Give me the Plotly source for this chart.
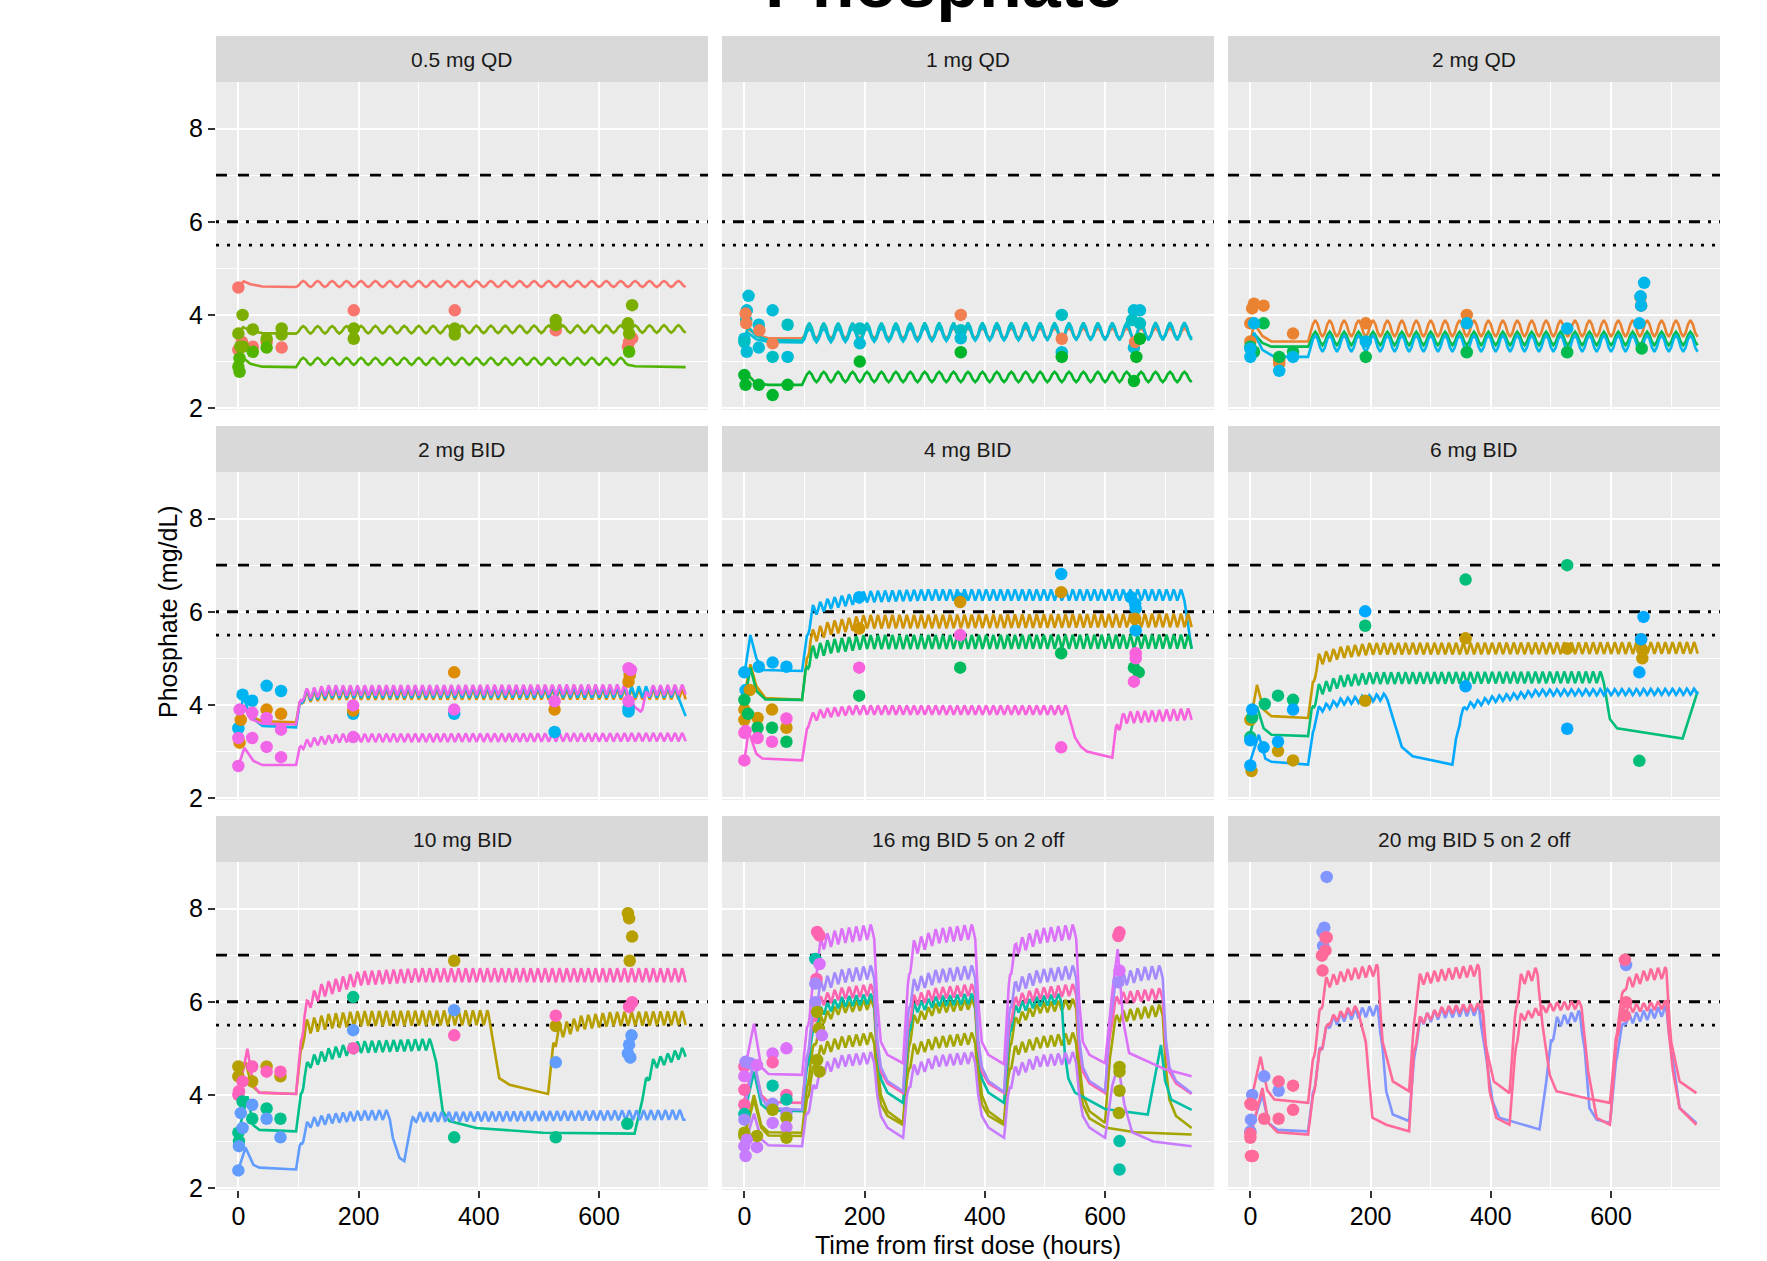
import numpy as np
import plotly.graph_objects as go

# ---------------- data ----------------
PANEL_TITLES = ["0.5 mg QD", "1 mg QD", "2 mg QD",
                "2 mg BID", "4 mg BID", "6 mg BID",
                "10 mg BID", "16 mg BID 5 on 2 off", "20 mg BID 5 on 2 off"]
X_TICKS = [0, 200, 400, 600]
Y_TICKS = [2, 4, 6, 8]
REF_LEVELS = [7.0, 6.0, 5.5]
TITLE = "Phosphate"
X_TITLE = "Time from first dose (hours)"
Y_TITLE = "Phosphate (mg/dL)"

# simulated individual lines: (colour index, envelope knots (t, trough value), dosing windows (start, end, period, swing))
COLORS_1 = ["#F8766D", "#7CAE00", "#53B400"]
SIM_1 = [
    (0, [(0, 4.60), (9, 4.72), (20, 4.66), (40, 4.61), (96, 4.60), (744, 4.60)], [(96, 744, 24, 0.13)]),
    (1, [(0, 3.62), (8, 3.74), (20, 3.66), (40, 3.61), (96, 3.60), (744, 3.62)], [(96, 744, 24, 0.16)]),
    (2, [(0, 2.95), (8, 3.08), (20, 2.95), (40, 2.89), (96, 2.88), (100, 2.93), (648, 2.93), (660, 2.90), (744, 2.88)], [(96, 648, 24, 0.15)]),
]
OBS_1 = [(0, 4.59, 0), (6, 3.42, 0), (0, 3.25, 0), (24, 3.32, 0), (47, 3.42, 0), (72, 3.30, 0), (192, 4.10, 0),
         (360, 4.10, 0), (528, 3.67, 0), (648, 3.32, 0), (655, 3.50, 0), (650, 3.42, 0),
         (0, 3.60, 1), (7, 4.00, 1), (3, 3.32, 1), (8, 3.32, 1), (24, 3.69, 1), (47, 3.49, 1), (72, 3.71, 1),
         (72, 3.58, 1), (192, 3.71, 1), (192, 3.49, 1), (360, 3.71, 1), (360, 3.58, 1), (528, 3.89, 1),
         (528, 3.78, 1), (648, 3.82, 1), (650, 3.60, 1), (655, 4.21, 1),
         (2, 3.07, 2), (0, 2.89, 2), (2, 2.78, 2), (24, 3.21, 2), (47, 3.30, 2), (650, 3.21, 2)]

COLORS_2 = ["#F07F52", "#00B52A", "#00BFC4", "#00BCD6"]
SIM_2 = [
    (0, [(0, 3.50), (6, 3.70), (20, 3.58), (40, 3.50), (96, 3.50), (744, 3.50)], [(96, 744, 24, 0.22)]),
    (1, [(0, 2.70), (5, 2.72), (20, 2.53), (40, 2.50), (96, 2.50), (100, 2.56), (744, 2.56)], [(96, 744, 24, 0.22)]),
    (2, [(0, 3.45), (6, 3.75), (20, 3.55), (40, 3.46), (96, 3.45), (744, 3.46)], [(96, 744, 24, 0.38)]),
    (3, [(0, 3.40), (6, 3.62), (20, 3.48), (40, 3.42), (96, 3.41), (744, 3.50)], [(96, 744, 24, 0.30)]),
]
OBS_2 = [(7, 4.41, 3), (4, 4.10, 3), (3, 3.89, 2), (24, 3.79, 3), (47, 4.10, 3), (72, 3.79, 2), (0, 3.49, 3),
         (0, 3.42, 2), (4, 3.21, 3), (24, 3.30, 3), (47, 3.10, 2), (72, 3.10, 3), (192, 3.71, 2), (192, 3.39, 3),
         (360, 3.67, 2), (360, 3.50, 3), (528, 4.00, 2), (528, 3.20, 3), (648, 4.10, 3), (658, 4.10, 3),
         (645, 3.89, 2), (658, 3.82, 2), (648, 3.30, 3),
         (2, 4.03, 0), (3, 3.82, 0), (25, 3.67, 0), (47, 3.39, 0), (360, 4.00, 0), (528, 3.49, 0), (650, 3.42, 0),
         (0, 2.71, 1), (2, 2.50, 1), (24, 2.50, 1), (47, 2.28, 1), (72, 2.50, 1), (192, 3.00, 1), (360, 3.20, 1),
         (528, 3.10, 1), (648, 2.58, 1), (652, 3.10, 1), (658, 3.49, 1)]

COLORS_3 = ["#EA8331", "#00BB4E", "#00B6EB"]
SIM_3 = [
    (0, [(0, 3.40), (6, 3.82), (20, 3.55), (35, 3.43), (96, 3.43), (100, 3.53), (744, 3.53)], [(96, 744, 24, 0.36)]),
    (1, [(0, 3.30), (6, 3.60), (20, 3.40), (35, 3.32), (96, 3.32), (100, 3.35), (744, 3.35)], [(96, 744, 24, 0.29)]),
    (2, [(0, 3.10), (6, 3.62), (20, 3.25), (40, 3.10), (96, 3.10), (100, 3.21), (744, 3.21)], [(96, 744, 24, 0.36)]),
]
OBS_3 = [(0, 3.43, 0), (0, 3.82, 0), (3, 4.14, 0), (6, 4.24, 0), (22, 4.20, 0), (71, 3.60, 0), (48, 3.03, 0),
         (48, 2.96, 0), (192, 3.82, 0), (360, 4.00, 0), (649, 4.38, 0), (650, 4.20, 0),
         (0, 3.32, 1), (22, 3.82, 1), (6, 3.21, 1), (48, 3.10, 1), (71, 3.21, 1), (192, 3.10, 1), (360, 3.20, 1),
         (527, 3.20, 1), (651, 3.28, 1),
         (0, 3.10, 2), (6, 3.82, 2), (48, 2.80, 2), (71, 3.10, 2), (192, 3.43, 2), (360, 3.82, 2), (527, 3.71, 2),
         (655, 4.69, 2), (649, 4.40, 2), (650, 4.20, 2), (647, 3.82, 2), (0, 3.28, 2)]

COLORS_4 = ["#DE8C00", "#00B4EF", "#F166E8"]
SIM_4 = [
    (0, [(0, 3.30), (9, 3.95), (20, 3.75), (40, 3.65), (96, 3.63), (108, 4.05), (150, 4.11), (744, 4.12)], [(96, 744, 12, 0.22)]),
    (1, [(0, 3.45), (8, 4.20), (20, 3.75), (40, 3.55), (96, 3.52), (108, 4.08), (150, 4.15), (732, 4.16), (744, 3.76)], [(96, 732, 12, 0.24)]),
    (2, [(0, 3.50), (9, 4.00), (20, 3.70), (40, 3.60), (96, 3.58), (108, 4.12), (150, 4.20), (648, 4.22), (660, 3.95),
         (669, 3.86), (672, 3.90), (684, 4.20), (744, 4.22)], [(96, 648, 12, 0.22), (672, 744, 12, 0.22)]),
    (2, [(0, 2.69), (10, 3.08), (25, 2.80), (40, 2.71), (96, 2.71), (106, 3.05), (130, 3.13), (170, 3.20), (744, 3.22)], [(96, 744, 12, 0.18)]),
]
OBS_4 = [(0, 3.50, 1), (7, 4.22, 1), (23, 4.09, 1), (47, 4.41, 1), (71, 4.30, 1), (191, 3.81, 1), (359, 3.81, 1),
         (526, 3.42, 1), (649, 3.93, 1), (649, 3.86, 1), (651, 4.71, 1),
         (2, 3.19, 0), (4, 3.68, 0), (47, 3.90, 0), (71, 3.81, 0), (191, 3.88, 0), (359, 4.70, 0), (526, 3.90, 0),
         (649, 4.50, 0), (651, 4.64, 0),
         (0, 2.69, 2), (0, 3.29, 2), (2, 3.90, 2), (23, 3.29, 2), (23, 3.83, 2), (47, 3.10, 2), (47, 3.72, 2),
         (71, 2.88, 2), (71, 3.47, 2), (191, 3.99, 2), (191, 3.31, 2), (359, 3.90, 2), (526, 4.08, 2),
         (649, 4.08, 2), (649, 4.79, 2), (653, 4.75, 2)]

COLORS_5 = ["#00B0F6", "#D09400", "#00BA5E", "#F962DD"]
SIM_5 = [
    (0, [(0, 4.65), (10, 5.50), (20, 5.00), (32, 4.75), (96, 4.73), (108, 5.60), (113, 5.90), (140, 6.05), (200, 6.20),
         (300, 6.24), (732, 6.24), (744, 5.20)], [(96, 732, 12, 0.24)]),
    (1, [(0, 4.20), (10, 4.87), (20, 4.40), (35, 4.15), (96, 4.11), (110, 5.30), (140, 5.50), (200, 5.64), (744, 5.67)], [(96, 744, 12, 0.29)]),
    (2, [(0, 4.05), (10, 4.80), (20, 4.30), (35, 4.12), (96, 4.11), (110, 4.95), (140, 5.10), (200, 5.20), (744, 5.21)], [(96, 744, 12, 0.30)]),
    (3, [(0, 2.80), (7, 3.44), (20, 2.95), (30, 2.85), (96, 2.81), (108, 3.60), (130, 3.72), (180, 3.79), (540, 3.79),
         (550, 3.30), (560, 3.10), (570, 3.00), (612, 2.87), (620, 3.40), (632, 3.60), (744, 3.68)],
     [(96, 540, 12, 0.20), (612, 744, 12, 0.25)]),
]
OBS_5 = [(0, 4.70, 0), (2, 4.32, 0), (24, 4.82, 0), (47, 4.91, 0), (70, 4.82, 0), (191, 6.31, 0), (359, 6.28, 0),
         (527, 6.81, 0), (650, 6.17, 0), (651, 6.07, 0), (651, 5.60, 0), (643, 6.31, 0),
         (0, 3.90, 1), (0, 3.68, 1), (9, 4.32, 1), (22, 3.72, 1), (46, 3.90, 1), (70, 3.51, 1), (191, 5.64, 1),
         (359, 6.21, 1), (527, 6.42, 1), (650, 5.85, 1),
         (0, 4.11, 2), (6, 3.81, 2), (22, 3.51, 2), (46, 3.51, 2), (70, 3.21, 2), (191, 4.20, 2), (359, 4.80, 2),
         (527, 5.11, 2), (648, 4.80, 2), (656, 4.70, 2),
         (0, 2.81, 3), (2, 3.44, 3), (0, 3.40, 3), (22, 3.29, 3), (46, 3.21, 3), (70, 3.71, 3), (191, 4.80, 3),
         (359, 5.50, 3), (527, 3.09, 3), (648, 4.50, 3), (651, 5.11, 3), (651, 5.00, 3)]

COLORS_6 = ["#C49A00", "#00BD78", "#00A9FF"]
SIM_6 = [
    (0, [(0, 3.65), (11, 4.43), (22, 3.90), (35, 3.76), (96, 3.72), (108, 4.60), (114, 4.85), (150, 5.00), (200, 5.08),
         (744, 5.10)], [(96, 744, 12, 0.25)]),
    (1, [(0, 3.40), (11, 3.97), (22, 3.50), (35, 3.36), (96, 3.33), (108, 4.00), (114, 4.20), (150, 4.38), (200, 4.45),
         (588, 4.47), (598, 3.70), (610, 3.50), (719, 3.28), (744, 4.29)], [(96, 588, 12, 0.25)]),
    (2, [(0, 2.80), (14, 3.36), (25, 2.85), (35, 2.78), (96, 2.72), (108, 3.60), (114, 3.83), (150, 4.00), (228, 4.11),
         (240, 3.60), (252, 3.10), (270, 2.90), (336, 2.72), (350, 3.70), (358, 3.90), (400, 4.05), (480, 4.20),
         (744, 4.22)], [(96, 228, 12, 0.14), (336, 744, 12, 0.13)]),
]
OBS_6 = [(0, 3.68, 0), (2, 2.58, 0), (46, 3.01, 0), (71, 2.81, 0), (191, 4.09, 0), (358, 5.43, 0), (527, 5.21, 0),
         (652, 5.00, 0), (652, 5.18, 0), (650, 5.41, 0),
         (3, 3.73, 1), (24, 4.02, 1), (46, 4.20, 1), (71, 4.11, 1), (0, 3.31, 1), (191, 5.70, 1), (358, 6.69, 1),
         (527, 7.00, 1), (647, 2.80, 1),
         (0, 2.70, 2), (0, 3.24, 2), (3, 3.90, 2), (22, 3.09, 2), (46, 3.21, 2), (71, 3.90, 2), (191, 6.01, 2),
         (358, 4.40, 2), (527, 3.49, 2), (647, 4.70, 2), (650, 5.41, 2), (654, 5.89, 2)]

COLORS_7 = ["#B79F00", "#FF62BC", "#00BF8A", "#619CFF"]
SIM_7 = [
    (0, [(0, 4.50), (12, 4.70), (22, 4.20), (35, 4.05), (96, 4.02), (108, 5.10), (114, 5.30), (150, 5.42), (200, 5.48),
         (420, 5.50), (424, 5.14), (434, 4.36), (451, 4.22), (515, 4.02), (524, 4.90), (532, 5.20), (570, 5.40),
         (620, 5.48), (744, 5.50)], [(96, 420, 12, 0.32), (516, 744, 12, 0.30)]),
    (1, [(0, 4.00), (15, 4.99), (25, 4.20), (35, 4.05), (96, 4.02), (110, 5.60), (118, 5.85), (140, 6.10), (200, 6.35),
         (300, 6.42), (744, 6.42)], [(96, 744, 12, 0.30)]),
    (2, [(0, 3.19), (15, 3.97), (25, 3.35), (35, 3.25), (96, 3.22), (110, 4.30), (118, 4.57), (150, 4.75), (200, 4.90),
         (324, 4.96), (329, 4.71), (340, 3.65), (351, 3.44), (396, 3.29), (507, 3.19), (659, 3.17), (673, 3.95),
         (690, 4.55), (744, 4.82)], [(96, 324, 12, 0.25), (672, 744, 12, 0.22)]),
    (3, [(0, 2.40), (12, 2.87), (25, 2.50), (35, 2.44), (96, 2.40), (110, 3.10), (118, 3.29), (150, 3.38), (200, 3.45),
         (252, 3.47), (257, 3.08), (268, 2.65), (276, 2.58), (284, 3.20), (296, 3.42), (744, 3.47)],
     [(96, 252, 12, 0.21), (284, 744, 12, 0.21)]),
]
OBS_7 = [(0, 4.61, 0), (0, 4.40, 0), (23, 4.29, 0), (47, 4.61, 0), (70, 4.40, 0), (359, 6.88, 0), (528, 5.48, 0),
         (648, 7.90, 0), (650, 7.79, 0), (655, 7.40, 0), (651, 6.88, 0),
         (0, 4.00, 1), (1, 4.08, 1), (7, 4.29, 1), (23, 4.61, 1), (47, 4.50, 1), (70, 4.50, 1), (191, 5.00, 1),
         (359, 5.28, 1), (528, 5.70, 1), (650, 5.89, 1), (655, 5.99, 1),
         (0, 3.19, 2), (1, 3.01, 2), (7, 3.86, 2), (23, 3.49, 2), (47, 3.71, 2), (70, 3.49, 2), (191, 6.10, 2),
         (359, 3.09, 2), (528, 3.09, 2), (647, 3.38, 2),
         (0, 2.38, 3), (1, 2.90, 3), (7, 3.29, 3), (4, 3.61, 3), (23, 3.79, 3), (47, 3.49, 3), (70, 3.09, 3),
         (191, 5.39, 3), (359, 5.82, 3), (528, 4.70, 3), (654, 5.28, 3), (650, 5.08, 3), (648, 4.89, 3), (652, 4.80, 3)]

COLORS_8 = ["#A3A500", "#00BFA6", "#A58AFF", "#DC71FA", "#C77CFF", "#FF64B0"]
SIM_8 = [
    (0, [(0, 3.10), (16, 3.90), (28, 3.30), (40, 3.13), (96, 3.12), (110, 4.20), (127, 4.85), (160, 5.00), (216, 5.10),
         (221, 4.30), (227, 3.80), (238, 3.55), (264, 3.36), (274, 4.50), (282, 4.85), (320, 5.00), (384, 5.10),
         (389, 4.30), (395, 3.80), (406, 3.55), (432, 3.36), (442, 4.50), (452, 4.85), (490, 5.00), (552, 5.10),
         (557, 4.30), (563, 3.80), (574, 3.50), (600, 3.30), (650, 3.20), (744, 3.15)],
     [(96, 216, 12, 0.25), (264, 384, 12, 0.25), (432, 552, 12, 0.25)]),
    (0, [(0, 3.15), (16, 4.00), (28, 3.35), (40, 3.20), (96, 3.19), (110, 4.60), (127, 5.50), (160, 5.75), (216, 5.85),
         (221, 4.70), (227, 4.00), (238, 3.65), (264, 3.40), (274, 5.00), (282, 5.50), (320, 5.75), (384, 5.85),
         (389, 4.70), (395, 4.00), (406, 3.65), (432, 3.40), (442, 5.00), (452, 5.50), (490, 5.75), (552, 5.85),
         (557, 4.70), (563, 4.00), (574, 3.65), (600, 3.40), (612, 5.20), (621, 5.55), (696, 5.70), (701, 4.60),
         (707, 3.90), (718, 3.55), (744, 3.29)],
     [(96, 216, 12, 0.22), (264, 384, 12, 0.22), (432, 552, 12, 0.22), (600, 696, 12, 0.25)]),
    (1, [(0, 3.60), (16, 4.50), (28, 3.80), (40, 3.67), (96, 3.65), (110, 5.00), (127, 5.70), (160, 5.88), (216, 5.96),
         (221, 4.90), (227, 4.35), (238, 4.05), (264, 3.83), (274, 5.30), (282, 5.75), (320, 5.90), (384, 5.96),
         (389, 4.90), (395, 4.35), (406, 4.05), (432, 3.83), (442, 5.30), (452, 5.75), (490, 5.90), (528, 5.96),
         (533, 4.90), (539, 4.35), (550, 4.05), (600, 3.70), (671, 3.58), (693, 5.07), (700, 4.30), (710, 3.90),
         (744, 3.68)],
     [(96, 216, 12, 0.22), (264, 384, 12, 0.22), (432, 528, 12, 0.22)]),
    (4, [(0, 2.90), (16, 3.60), (28, 3.05), (40, 2.92), (96, 2.90), (110, 3.80), (127, 4.40), (160, 4.60), (216, 4.68),
         (221, 4.00), (227, 3.55), (238, 3.30), (264, 3.08), (274, 4.10), (282, 4.40), (320, 4.60), (384, 4.68),
         (389, 4.00), (395, 3.55), (406, 3.30), (432, 3.08), (442, 4.10), (452, 4.40), (490, 4.60), (552, 4.68),
         (557, 4.00), (563, 3.55), (574, 3.30), (600, 3.08), (612, 4.20), (622, 4.64), (632, 3.80), (645, 3.20),
         (680, 3.00), (744, 2.90)],
     [(96, 216, 12, 0.25), (264, 384, 12, 0.25), (432, 552, 12, 0.25)]),
    (5, [(0, 3.90), (16, 4.71), (28, 4.00), (40, 3.85), (96, 3.83), (110, 5.20), (127, 5.90), (160, 6.05), (216, 6.14),
         (221, 5.00), (227, 4.50), (238, 4.25), (264, 4.04), (274, 5.50), (282, 5.90), (320, 6.05), (384, 6.14),
         (389, 5.00), (395, 4.50), (406, 4.25), (432, 4.04), (442, 5.50), (452, 5.90), (490, 6.05), (552, 6.14),
         (557, 5.00), (563, 4.50), (574, 4.25), (600, 4.04), (612, 5.60), (621, 5.95), (696, 6.05), (701, 5.00),
         (707, 4.50), (718, 4.25), (744, 4.02)],
     [(96, 216, 12, 0.25), (264, 384, 12, 0.25), (432, 552, 12, 0.25), (600, 696, 12, 0.25)]),
    (2, [(0, 3.70), (16, 4.75), (28, 3.95), (40, 3.72), (96, 3.68), (110, 5.30), (127, 6.20), (160, 6.40), (216, 6.50),
         (221, 5.20), (227, 4.60), (238, 4.30), (264, 4.08), (274, 5.80), (282, 6.20), (320, 6.40), (384, 6.50),
         (389, 5.20), (395, 4.60), (406, 4.30), (432, 4.06), (442, 5.80), (452, 6.20), (490, 6.40), (552, 6.50),
         (557, 5.20), (563, 4.60), (574, 4.30), (600, 4.08), (612, 5.90), (621, 6.30), (660, 6.45), (696, 6.50),
         (701, 5.20), (707, 4.60), (718, 4.30), (744, 4.04)],
     [(96, 216, 12, 0.29), (264, 384, 12, 0.29), (432, 552, 12, 0.29), (600, 696, 12, 0.29)]),
    (3, [(0, 4.50), (16, 5.53), (28, 4.60), (40, 4.45), (96, 4.43), (110, 5.80), (127, 7.10), (160, 7.25), (216, 7.35),
         (221, 6.00), (227, 5.14), (238, 4.86), (264, 4.68), (274, 6.50), (282, 7.00), (320, 7.25), (384, 7.35),
         (389, 6.00), (395, 5.14), (406, 4.86), (432, 4.66), (442, 6.50), (452, 7.00), (490, 7.25), (552, 7.35),
         (557, 6.00), (563, 5.14), (574, 4.86), (600, 4.68), (612, 6.20), (621, 7.13), (630, 5.60), (640, 4.90),
         (700, 4.55), (744, 4.40)],
     [(96, 216, 12, 0.32), (264, 384, 12, 0.32), (432, 552, 12, 0.32)]),
]
OBS_8 = [(0, 4.61, 5), (2, 4.71, 2), (10, 4.68, 2), (21, 4.64, 3), (0, 4.40, 3), (0, 4.11, 5), (0, 3.79, 5),
         (0, 3.59, 1), (0, 3.47, 2), (0, 3.19, 0), (0, 3.12, 0), (0, 2.90, 4), (2, 2.69, 4), (21, 2.88, 4),
         (21, 3.12, 0), (4, 3.04, 4),
         (47, 4.89, 3), (47, 4.70, 5), (47, 4.20, 1), (47, 3.81, 2), (47, 3.68, 0), (47, 3.40, 4),
         (70, 5.00, 3), (70, 4.00, 5), (70, 3.90, 1), (70, 3.61, 2), (70, 3.51, 0), (70, 3.31, 4), (70, 3.08, 0),
         (121, 7.50, 5), (125, 7.42, 5), (118, 6.92, 1), (125, 6.81, 3), (120, 6.49, 5), (118, 6.39, 2),
         (118, 5.99, 2), (121, 5.78, 0), (124, 5.43, 0), (129, 5.28, 4), (121, 4.75, 0), (125, 4.50, 0),
         (624, 7.49, 5), (622, 7.41, 5), (624, 6.67, 3), (622, 6.42, 2), (624, 4.60, 0), (624, 4.50, 0),
         (624, 4.09, 0), (623, 3.61, 0), (624, 3.01, 1), (624, 2.40, 1)]

COLORS_9 = ["#8095FF", "#FF6A98"]
SIM_9 = [
    (0, [(0, 3.20), (20, 4.00), (30, 3.40), (45, 3.25), (96, 3.22), (115, 4.80), (131, 5.43), (160, 5.60), (212, 5.71),
         (220, 5.00), (226, 4.08), (237, 3.58), (264, 3.44), (275, 5.00), (284, 5.50), (320, 5.65), (381, 5.71),
         (390, 5.00), (403, 3.86), (414, 3.51), (481, 3.26), (500, 5.00), (509, 5.45), (548, 5.60), (556, 5.00),
         (564, 3.72), (576, 3.47), (598, 3.40), (612, 5.00), (623, 5.50), (692, 5.70), (700, 5.00), (714, 3.72),
         (742, 3.40)],
     [(96, 216, 12, 0.22), (264, 384, 12, 0.22), (492, 552, 12, 0.22), (600, 696, 12, 0.22)]),
    (1, [(0, 3.10), (20, 4.15), (30, 3.40), (45, 3.20), (96, 3.15), (115, 4.80), (131, 5.50), (160, 5.68), (180, 5.75),
         (192, 5.14), (203, 3.51), (226, 3.36), (264, 3.22), (272, 4.80), (281, 5.50), (320, 5.72), (387, 5.80),
         (398, 4.08), (409, 3.51), (431, 3.36), (442, 5.00), (450, 5.57), (500, 5.80), (551, 5.85), (562, 4.50),
         (576, 3.51), (598, 3.36), (610, 5.20), (620, 5.75), (692, 5.85), (703, 4.50), (714, 3.72), (742, 3.36)],
     [(96, 180, 12, 0.18), (264, 384, 12, 0.18), (432, 552, 12, 0.18), (600, 696, 12, 0.18)]),
    (1, [(0, 3.80), (17, 4.82), (28, 4.10), (40, 3.90), (96, 3.83), (115, 5.60), (126, 6.28), (160, 6.45), (212, 6.56),
         (220, 5.14), (237, 4.29), (264, 4.08), (275, 5.80), (281, 6.35), (320, 6.45), (381, 6.56), (390, 5.14),
         (405, 4.29), (431, 4.04), (442, 5.80), (450, 6.35), (478, 6.50), (486, 5.50), (498, 4.43), (509, 4.08),
         (559, 3.93), (598, 3.83), (612, 5.50), (623, 6.24), (660, 6.45), (692, 6.50), (700, 5.14), (714, 4.29),
         (742, 4.04)],
     [(96, 216, 12, 0.25), (264, 384, 12, 0.25), (432, 480, 12, 0.25), (600, 696, 12, 0.25)]),
]
OBS_9 = [(127, 8.68, 0), (123, 7.59, 0), (120, 7.50, 0), (121, 7.20, 0), (3, 4.00, 0), (1, 3.47, 0), (0, 3.22, 0),
         (23, 4.40, 0), (47, 4.09, 0), (625, 6.79, 0),
         (125, 7.38, 1), (127, 7.38, 1), (125, 7.10, 1), (119, 6.99, 1), (120, 6.67, 1), (0, 3.81, 1), (3, 3.79, 1),
         (0, 3.17, 1), (0, 3.08, 1), (4, 2.69, 1), (1, 2.69, 1), (23, 3.49, 1), (47, 4.29, 1), (47, 3.49, 1),
         (71, 4.20, 1), (71, 3.68, 1), (623, 6.90, 1), (625, 5.99, 1), (623, 5.70, 1)]

PANEL_COLORS = [COLORS_1, COLORS_2, COLORS_3, COLORS_4, COLORS_5, COLORS_6, COLORS_7, COLORS_8, COLORS_9]
PANEL_SIMS = [SIM_1, SIM_2, SIM_3, SIM_4, SIM_5, SIM_6, SIM_7, SIM_8, SIM_9]
PANEL_OBS = [OBS_1, OBS_2, OBS_3, OBS_4, OBS_5, OBS_6, OBS_7, OBS_8, OBS_9]

# ---------------- layout constants ----------------
W, H = 1767, 1261
COL_X = [(216, 708), (722, 1214), (1228, 1720)]
ROW_Y = [(82, 410), (472, 800), (862, 1190)]
STRIP_H = 46
X_RANGE = [-37.2, 781.2]
Y_RANGE = [1.96, 9.0]
FONT = "Liberation Sans, Arial, Helvetica, sans-serif"
REF_DASH = ["11px,11px", "3px,8px,11px,8px", "3px,8px"]

# one dosing-interval template (trough -> peak -> trough)
SHAPE_F = np.array([0, 1 / 6, 2 / 6, 3 / 6, 4 / 6, 5 / 6, 1.0])
SHAPE_V = np.array([0, 0.25, 0.75, 1.0, 0.75, 0.25, 0.0])


def build_curve(knots, doses):
    kt = np.array([p[0] for p in knots], float)
    kv = np.array([p[1] for p in knots], float)
    ts = set(kt.tolist())
    for a, b, per, amp in doses:
        n = int((b - a) // per)
        for i in range(n):
            for f in SHAPE_F[:-1]:
                ts.add(round(a + (i + f) * per, 6))
        ts.add(a + n * per)
    t = np.array(sorted(x for x in ts if kt[0] <= x <= kt[-1]))
    v = np.interp(t, kt, kv)
    for a, b, per, amp in doses:
        n = int((b - a) // per)
        end = a + n * per
        m = (t >= a) & (t < end)
        ph = ((t[m] - a) % per) / per
        v[m] += amp * np.interp(ph, SHAPE_F, SHAPE_V)
    return t, v


fig = go.Figure()
layout = {}
shapes = []
annotations = []

for k in range(9):
    r, c = divmod(k, 3)
    sfx = "" if k == 0 else str(k + 1)
    xa, ya = "x" + sfx, "y" + sfx
    x0, x1 = COL_X[c]
    y0, y1 = ROW_Y[r]

    layout["xaxis" + sfx] = dict(
        domain=[x0 / W, x1 / W], anchor=ya, range=X_RANGE, autorange=False,
        tickmode="array", tickvals=X_TICKS, ticktext=[str(v) for v in X_TICKS],
        showgrid=True, gridcolor="white", gridwidth=2.4, zeroline=False, showline=False,
        minor=dict(tickmode="array", tickvals=[100, 300, 500, 700], showgrid=True,
                   gridcolor="white", gridwidth=1.2, ticks=""),
        showticklabels=(r == 2), ticks="outside" if r == 2 else "",
        ticklen=7, tickwidth=2.2, tickcolor="#333333", automargin=False,
        ticklabelstandoff=-3,
        tickfont=dict(family=FONT, size=25, color="black"),
    )
    layout["yaxis" + sfx] = dict(
        domain=[1 - y1 / H, 1 - y0 / H], anchor=xa, range=Y_RANGE, autorange=False,
        tickmode="array", tickvals=Y_TICKS, ticktext=[str(v) for v in Y_TICKS],
        showgrid=True, gridcolor="white", gridwidth=2.4, zeroline=False, showline=False,
        minor=dict(tickmode="array", tickvals=[3, 5, 7], showgrid=True,
                   gridcolor="white", gridwidth=1.2, ticks=""),
        showticklabels=(c == 0), ticks="outside" if c == 0 else "",
        ticklen=7, tickwidth=2.2, tickcolor="#333333", automargin=False,
        tickfont=dict(family=FONT, size=25, color="black"),
    )

    # strip
    shapes.append(dict(type="rect", xref="paper", yref="paper",
                       x0=x0 / W, x1=x1 / W, y0=1 - y0 / H, y1=1 - (y0 - STRIP_H) / H,
                       fillcolor="#D9D9D9", line=dict(width=0), layer="below"))
    annotations.append(dict(text=PANEL_TITLES[k], xref="paper", yref="paper",
                            x=(x0 + x1) / 2 / W, y=1 - (y0 - STRIP_H / 2) / H,
                            xanchor="center", yanchor="middle", showarrow=False,
                            font=dict(family=FONT, size=21, color="#1A1A1A")))

    # reference lines
    for lvl, dash in zip(REF_LEVELS, REF_DASH):
        fig.add_trace(go.Scatter(x=X_RANGE, y=[lvl, lvl], mode="lines", xaxis=xa, yaxis=ya,
                                 line=dict(color="black", width=2.8, dash=dash),
                                 hoverinfo="skip", showlegend=False))

    cols = PANEL_COLORS[k]
    for ci, knots, doses in PANEL_SIMS[k]:
        t, v = build_curve(knots, doses)
        fig.add_trace(go.Scatter(x=t, y=v, mode="lines", xaxis=xa, yaxis=ya,
                                 line=dict(color=cols[ci], width=2.6),
                                 hoverinfo="skip", showlegend=False))
    obs = PANEL_OBS[k]
    fig.add_trace(go.Scatter(x=[o[0] for o in obs], y=[o[1] for o in obs], mode="markers",
                             xaxis=xa, yaxis=ya,
                             marker=dict(color=[cols[o[2]] for o in obs], size=12.5, line=dict(width=0)),
                             showlegend=False))

# titles
annotations.append(dict(text="<b>" + TITLE + "</b>", xref="paper", yref="paper",
                        x=944 / W, y=1 - 24 / H, xanchor="center", yanchor="bottom", showarrow=False,
                        font=dict(family=FONT, size=70, color="black")))
annotations.append(dict(text=Y_TITLE, xref="paper", yref="paper", x=168 / W, y=1 - 612 / H,
                        xanchor="center", yanchor="middle", textangle=-90, showarrow=False,
                        font=dict(family=FONT, size=25, color="black")))
annotations.append(dict(text=X_TITLE, xref="paper", yref="paper", x=968 / W, y=1 - 1229 / H,
                        xanchor="center", yanchor="top", showarrow=False,
                        font=dict(family=FONT, size=25, color="black")))

fig.update_layout(width=W, height=H, autosize=False, margin=dict(l=0, r=0, t=0, b=0, pad=0),
                  paper_bgcolor="white", plot_bgcolor="#EBEBEB", showlegend=False,
                  shapes=shapes, annotations=annotations, font=dict(family=FONT), **layout)
fig.write_html("out.html", config={"responsive": False, "displayModeBar": False})
